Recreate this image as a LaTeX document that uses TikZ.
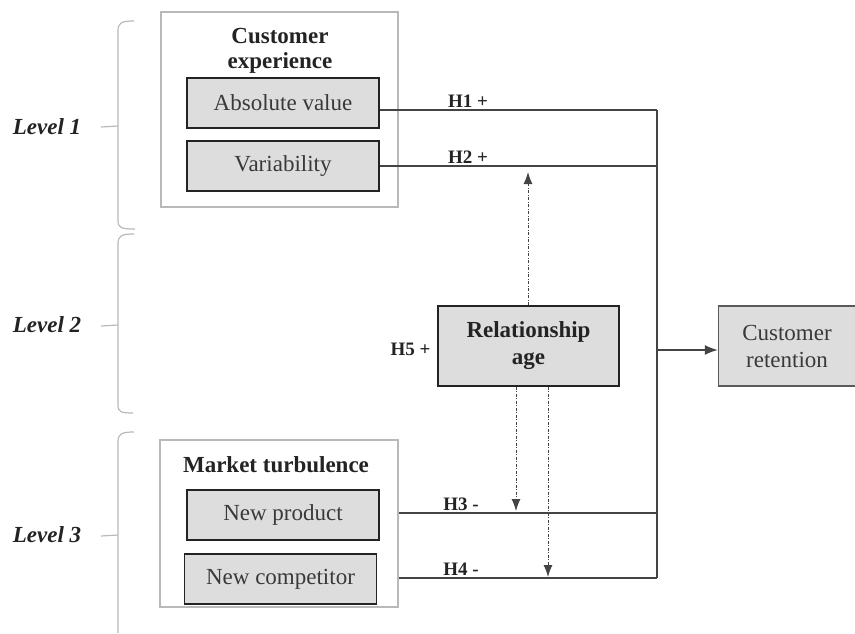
\documentclass[tikz,border=0pt]{standalone}
\usepackage{fontspec}
\setmainfont{Liberation Serif}
\usetikzlibrary{arrows.meta}
\definecolor{boxfill}{RGB}{221,221,221}
\definecolor{ink}{RGB}{35,35,35}
\definecolor{outline}{RGB}{185,185,185}
\begin{document}
\begin{tikzpicture}[x=1pt,y=-1pt,
  inbox/.style={draw=ink,line width=1.8pt,fill=boxfill,minimum width=192pt,minimum height=50pt,inner sep=0pt,
    text=ink!90,font=\fontsize{23}{26}\selectfont},
  bigbox/.style={draw=ink,line width=1.8pt,fill=boxfill,inner sep=0pt,align=center},
  outerbox/.style={draw=outline,line width=1.5pt,inner sep=0pt},
  title/.style={font=\fontsize{23}{25}\selectfont\bfseries,align=center,text=ink},
  lvl/.style={font=\fontsize{23}{26}\selectfont\bfseries\itshape,text=ink},
  hlab/.style={font=\fontsize{19}{22}\selectfont\bfseries,text=ink},
  conn/.style={draw=ink!85,line width=1.3pt},
  brk/.style={draw=outline,line width=1.2pt},
  dd/.style={draw=ink!85,line width=1pt,dash pattern=on 3pt off 1.5pt on 1pt off 1.5pt,-{Latex[length=12pt,width=9pt]}}
]
\useasboundingbox (0,0) rectangle (855,633);

% outer group boxes
\node[outerbox,minimum width=237pt,minimum height=195pt] (cebox) at (279.5,109.5) {};
\node[outerbox,minimum width=238pt,minimum height=167pt] (mtbox) at (279,523.5) {};

% titles
\node[title] (cetitle) at (280,51) {Customer\\experience};
\node[title] (mttitle) at (276,465) {Market turbulence};

% inner boxes
\node[inbox] (abs) at (283,103) {Absolute value};
\node[inbox] (var) at (283,166) {Variability};
\node[inbox] (np) at (283,515) {New product};
\node[inbox] (nc) at (280.5,579) {New competitor};

% relationship age and retention
\node[bigbox,minimum width=181pt,minimum height=80pt,font=\fontsize{23}{27}\selectfont\bfseries,text=ink] (ra) at (528.5,346) {Relationship\\age};
\node[bigbox,draw=ink!75,line width=1.5pt,minimum width=137pt,minimum height=80pt,font=\fontsize{23}{27}\selectfont,text=ink!90] (cr) at (787,346) {Customer\\retention};

% junction points
\coordinate (j1) at (657,110);
\coordinate (j2) at (657,166);
\coordinate (jm) at (657,350);
\coordinate (j3) at (657,513);
\coordinate (j4) at (657,578);

% connectors
\draw[conn] (abs.east |- j1) -- (j1);
\draw[conn] (var.east |- j2) -- (j2);
\draw[conn] (mtbox.east |- j3) -- (j3);
\draw[conn] (mtbox.east |- j4) -- (j4);
\draw[conn] (j1) -- (j4);
\draw[conn,-{Latex[length=13pt,width=10pt]}] (jm) -- (cr.west |- jm);

% hypothesis labels
\node[hlab] (h1) at (468,101) {H1 +};
\node[hlab] (h2) at (468,157) {H2 +};
\node[hlab] (h3) at (461,504) {H3 -};
\node[hlab] (h4) at (461,569) {H4 -};
\node[hlab,anchor=east] (h5) at (434,349) {H5 +};

% moderating arrows
\coordinate (u1) at (528,172);
\coordinate (d1) at (516,511);
\coordinate (d2) at (548,577);
\draw[dd] (ra.north -| u1) -- (u1);
\draw[dd] (ra.south -| d1) -- (d1);
\draw[dd] (ra.south -| d2) -- (d2);

% level labels
\node[lvl] (l1) at (47,127) {Level 1};
\node[lvl] (l2) at (47,325) {Level 2};
\node[lvl] (l3) at (47,535) {Level 3};

% brackets
\draw[brk] (134,21) .. controls (121,21) and (118,23) .. (118,31) -- (118,220) .. controls (118,228) and (121,229) .. (135,229);
\draw[brk] (118,126) -- (101,127);
\draw[brk] (134,234) .. controls (121,234) and (118,236) .. (118,244) -- (118,405) .. controls (118,412) and (121,413) .. (133,413);
\draw[brk] (118,325) -- (101,326);
\draw[brk] (134,432) .. controls (121,432) and (118,434) .. (118,442) -- (118,633);
\draw[brk] (118,535) -- (101,536);
\end{tikzpicture}
\end{document}
